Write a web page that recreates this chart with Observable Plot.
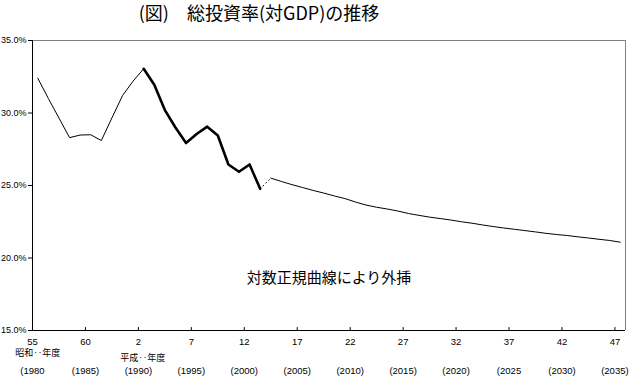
<!DOCTYPE html>
<html><head><meta charset="utf-8">
<script src="https://cdn.jsdelivr.net/npm/d3@7"></script>
<script src="https://cdn.jsdelivr.net/npm/@observablehq/plot@0.6"></script>
<style>body{margin:0;background:#fff} svg{display:block}</style>
</head><body><div id="chart"></div>
<script>
// Actual values (fiscal years 1980-2001)
const histYears = [1980,1981,1982,1983,1984,1985,1986,1987,1988,1989,1990,1991,1992,1993,1994,1995,1996,1997,1998,1999,2000,2001];
const histValues = [32.4,31.0,29.65,28.3,28.48,28.5,28.1,29.66,31.2,32.2,33.05,31.95,30.2,29.0,27.93,28.55,29.06,28.45,26.45,25.95,26.45,24.77];
// Extrapolation by log-normal curve (2002-2035)
const projYears = [2002,2003,2004,2005,2006,2007,2008,2009,2010,2011,2012,2013,2014,2015,2016,2017,2018,2019,2020,2021,2022,2023,2024,2025,2026,2027,2028,2029,2030,2031,2032,2033,2034,2035];
const projValues = [25.51,25.28,25.06,24.86,24.66,24.48,24.28,24.10,23.86,23.65,23.50,23.38,23.24,23.07,22.94,22.82,22.72,22.62,22.50,22.40,22.28,22.17,22.07,21.98,21.89,21.80,21.70,21.62,21.55,21.46,21.38,21.29,21.21,21.09];
// Axis ticks and labels
const tickYears = [1980,1985,1990,1995,2000,2005,2010,2015,2020,2025,2030,2035];
const eraLabels = ["55","60","2","7","12","17","22","27","32","37","42","47"];
const westernLabels = ["(1980","(1985)","(1990)","(1995)","(2000)","(2005)","(2010)","(2015)","(2020)","(2025","(2030)","(2035)"];
const yTicks = [15,20,25,30,35];
const eraNameYears = [1980.5, 1990.4];
const eraNames = ["昭和‥年度","平成‥年度"];
const titleText = "(図)　総投資率(対GDP)の推移";
const noteText = "対数正規曲線により外挿";

const hist = histYears.map((y,i)=>({year:y+0.5, v:histValues[i]}));
const proj = projYears.map((y,i)=>({year:y+0.5, v:projValues[i]}));
const thin1 = hist.filter(d=>d.year<=1990.5);
const thick = hist.filter(d=>d.year>=1990.5);
const bridge = [hist[hist.length-1], proj[0]];
const ticks = tickYears.map((y,i)=>({year:y, era:eraLabels[i], west:westernLabels[i]}));
const eras = eraNameYears.map((y,i)=>({year:y, text:eraNames[i]}));

const font = "'Noto Sans CJK JP', 'Noto Sans', sans-serif";
const latin = "'Liberation Sans', Arial, sans-serif";

const chart = Plot.plot({
  width: 630, height: 377,
  marginLeft: 32, marginRight: 5, marginTop: 40, marginBottom: 47,
  style: {fontFamily: font, background: "#fff", color: "#000"},
  x: {domain: [1980, 2036], axis: null},
  y: {domain: [15, 35]},
  marks: [
    Plot.ruleY([35], {stroke: "#808080"}),
    Plot.ruleX([2036], {stroke: "#808080"}),
    Plot.ruleX([1980], {stroke: "#000"}),
    Plot.ruleY([15], {stroke: "#000"}),
    Plot.axisY({ticks: yTicks, tickFormat: d => d.toFixed(1) + "%", tickSize: 4, tickPadding: 2, fontSize: 9, fontFamily: latin, label: null}),
    Plot.ruleX(ticks, {x: "year", y1: 15, y2: 15.2, stroke: "#000"}),
    Plot.text(ticks, {x: "year", y: 15, text: "era", dy: 11, fontSize: 9.5, fontFamily: latin, lineAnchor: "middle"}),
    Plot.text(ticks, {x: "year", y: 15, text: "west", dy: 40, fontSize: 9.5, fontFamily: latin, lineAnchor: "middle"}),
    Plot.text(eras.slice(0,1), {x: "year", y: 15, text: "text", dy: 23, fontSize: 9, lineAnchor: "middle"}),
    Plot.text(eras.slice(1), {x: "year", y: 15, text: "text", dy: 27.5, fontSize: 9, lineAnchor: "middle"}),
    Plot.line(thin1, {x: "year", y: "v", stroke: "#000", strokeWidth: 1}),
    Plot.line(thick, {x: "year", y: "v", stroke: "#000", strokeWidth: 2.6}),
    Plot.line(bridge, {x: "year", y: "v", stroke: "#000", strokeWidth: 1, strokeDasharray: "1,3"}),
    Plot.line(proj, {x: "year", y: "v", stroke: "#000", strokeWidth: 1}),
    Plot.text([noteText], {x: 2008, y: 18.6, text: d => d, fontSize: 15, lineAnchor: "middle"}),
    Plot.text([titleText], {frameAnchor: "top", dx: -70, dy: -26, text: d => d, fontSize: 18, lineAnchor: "middle"})
  ]
});
document.getElementById("chart").append(chart);
</script>
</body></html>
